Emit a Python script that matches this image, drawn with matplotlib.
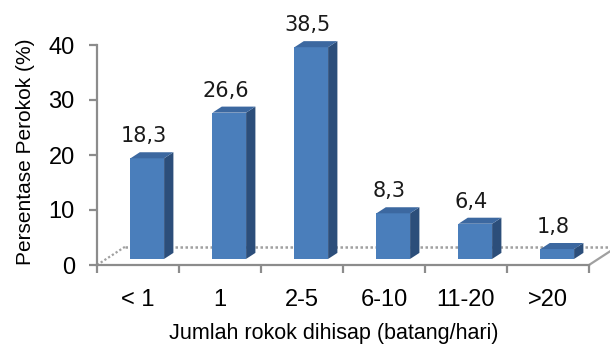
import matplotlib
matplotlib.use('Agg')
import matplotlib.pyplot as plt
from matplotlib.patches import Polygon

categories = ['< 1', '1', '2-5', '6-10', '11-20', '>20']
values = [18.3, 26.6, 38.5, 8.3, 6.4, 1.8]
value_labels = ['18,3', '26,6', '38,5', '8,3', '6,4', '1,8']
yticks = [0, 10, 20, 30, 40]

# oblique "3D" look: full floor depth expressed in data units
depth_x = 0.34
depth_y = 3.3
bar_w = 0.41

front_col = '#4a7ebb'
top_col = '#3c68a0'
side_col = '#2c4e7a'
axis_col = '#8c8c8c'

plt.rcParams['font.family'] = ['Liberation Sans', 'DejaVu Sans']

fig = plt.figure(figsize=(6.1, 3.44), dpi=100)
ax = fig.add_axes([97 / 610, 79 / 344, 492 / 610, 220 / 344])
ax.set_xlim(-0.5, len(categories) - 0.5)
ax.set_ylim(0, 40)

# floor outline (left, back, right edges)
x0, x1 = -0.5, len(categories) - 0.5
ax.plot([x0, x0 + depth_x], [0, depth_y], color='#a0a0a0', lw=1.6, ls=(0, (1, 1)),
        clip_on=False, zorder=1)
ax.plot([x0 + depth_x, x1 + depth_x], [depth_y, depth_y], color='#a0a0a0', lw=1.8,
        ls=(0, (1, 1)), clip_on=False, zorder=1)
ax.plot([x1, x1 + depth_x], [0, depth_y], color='#a0a0a0', lw=1.6,
        clip_on=False, zorder=1)

# bars sit in the middle third of the floor depth
fx = depth_x / 3
fy = depth_y / 3
for i, v in enumerate(values):
    xl = i - bar_w / 2 + fx
    xr = i + bar_w / 2 + fx
    yb = fy
    yt = v + fy
    front = Polygon([(xl, yb), (xr, yb), (xr, yt), (xl, yt)], closed=True,
                    facecolor=front_col, edgecolor='none', clip_on=False, zorder=3)
    side = Polygon([(xr, yb), (xr + fx, yb + fy), (xr + fx, yt + fy), (xr, yt)],
                   closed=True, facecolor=side_col, edgecolor='none', clip_on=False, zorder=3)
    top = Polygon([(xl, yt), (xr, yt), (xr + fx, yt + fy), (xl + fx, yt + fy)],
                  closed=True, facecolor=top_col, edgecolor='none', clip_on=False, zorder=3)
    for p in (front, side, top):
        ax.add_patch(p)
    ax.text(i + fx * 0.6, yt + fy + 1.1, value_labels[i], ha='center', va='bottom',
            fontsize=15, family='DejaVu Sans', color='#1a1a1a', clip_on=False)

# axes styling
for s in ('top', 'right'):
    ax.spines[s].set_visible(False)
for s in ('left', 'bottom'):
    ax.spines[s].set_color(axis_col)
    ax.spines[s].set_linewidth(1.6)
    ax.spines[s].set_zorder(2)

ax.set_yticks(yticks)
ax.tick_params(axis='y', length=6, width=1.6, color=axis_col, pad=10,
               labelsize=17)
ax.set_xticks([i - 0.5 for i in range(len(categories) + 1)])
ax.set_xticklabels([])
ax.set_xticks(range(len(categories)), minor=True)
ax.set_xticklabels(categories, minor=True)
ax.tick_params(axis='x', which='major', length=6, width=1.6, color=axis_col)
ax.tick_params(axis='x', which='minor', length=0, pad=17, labelsize=17)

ax.set_ylabel('Persentase Perokok (%)', fontsize=15)
ax.yaxis.set_label_coords(-0.125, 0.514)
ax.set_xlabel('Jumlah rokok dihisap (batang/hari)', fontsize=15.5)
ax.xaxis.set_label_coords((334 - 97) / 492, -0.262)

fig.savefig('out.png', dpi=100)
